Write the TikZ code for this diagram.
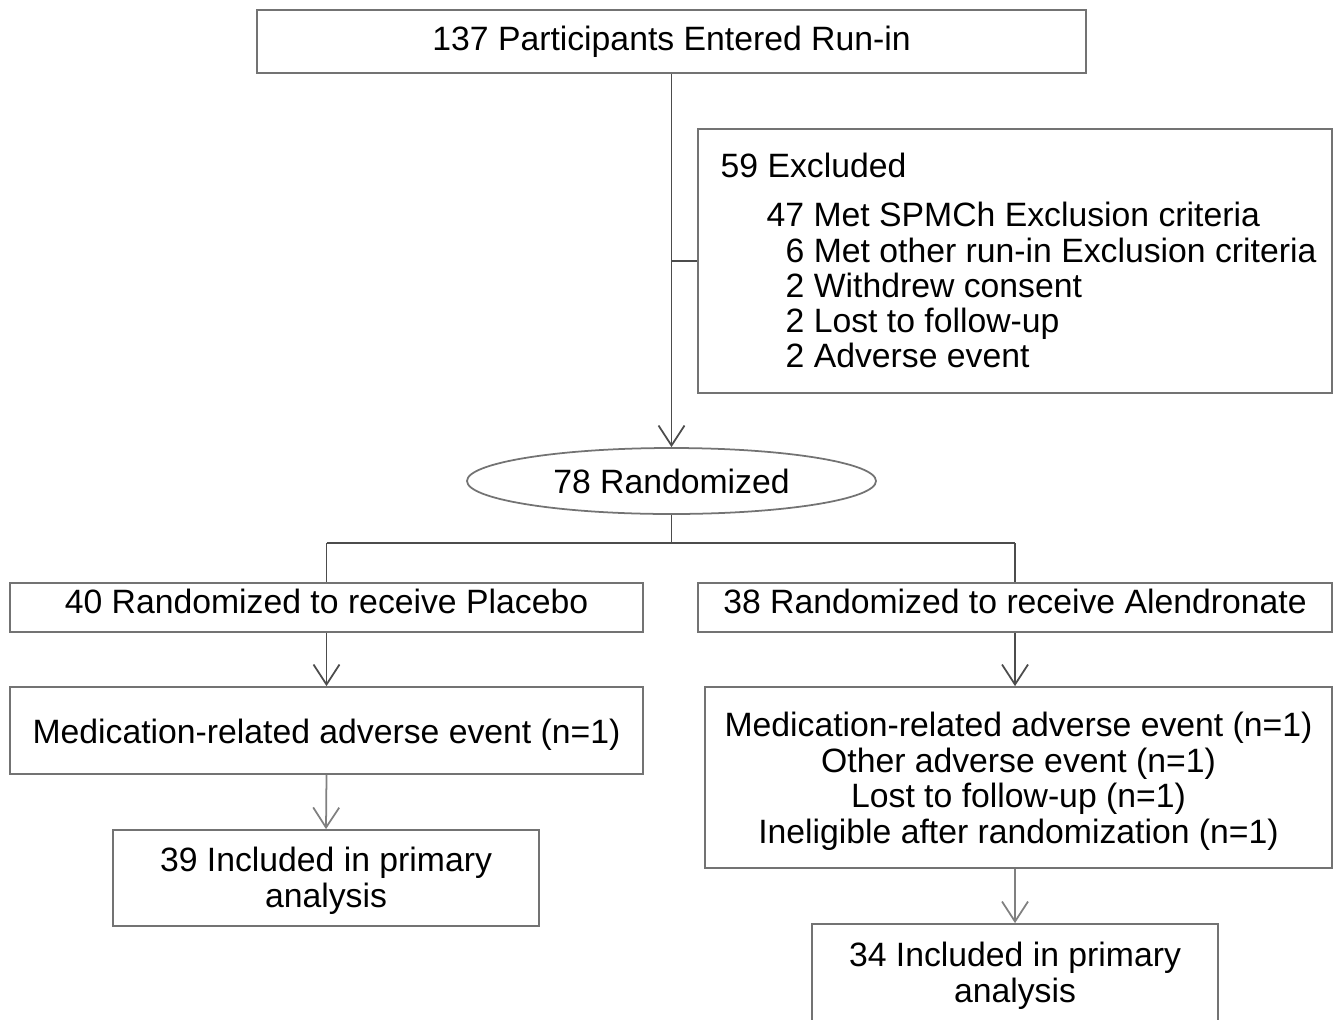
\documentclass[tikz,border=0pt]{standalone}
\usepackage{fontspec}
\setmainfont{Liberation Sans}
\usetikzlibrary{arrows.meta,shapes.geometric}

\begin{document}
\begin{tikzpicture}[
	font=\fontsize{9.6}{10.1}\selectfont,
	box/.style={draw=black!55, line width=0.5pt, rectangle, inner sep=0pt, align=center},
	oval/.style={draw=black!55, line width=0.5pt, ellipse, inner sep=0pt},
	line/.style={draw=black!70, line width=0.5pt},
	arr/.style={line, -{Straight Barb[length=2mm,width=2.6mm]}},
	arrl/.style={arr, draw=black!50},
	txt/.style={anchor=base west, inner sep=0pt}
]
	\clip (0,0) rectangle (13.4,-10.19);
	%\draw[help lines] (0,0) grid (13.4,-10.19);
	% top
	\node[box, minimum width=8.29cm, minimum height=0.63cm] (entered) at (6.715,-0.415) {137 Participants Entered Run-in};
	% excluded box and its lines
	\node[box, minimum width=6.34cm, minimum height=2.64cm] (excl) at (10.15,-2.61) {};
	\node[txt] (exclA) at (7.20,-1.77) {59 Excluded};
	\node[txt] (exclB) at (7.66,-2.26) {47 Met SPMCh Exclusion criteria};
	\node[txt] (exclC) at (7.85,-2.62) {6 Met other run-in Exclusion criteria};
	\node[txt] (exclD) at (7.85,-2.97) {2 Withdrew consent};
	\node[txt] (exclE) at (7.85,-3.32) {2 Lost to follow-up};
	\node[txt] (exclF) at (7.85,-3.67) {2 Adverse event};
	% randomized
	\node[oval, minimum width=4.09cm, minimum height=0.66cm] (rand) at (6.715,-4.81) {78 Randomized};
	\coordinate (split) at (6.715,-5.43);
	% arms
	\node[box, minimum width=6.33cm, minimum height=0.49cm, text height=0.25cm, text depth=0.14cm] (placebo) at (3.265,-6.075) {40 Randomized to receive Placebo};
	\node[box, minimum width=6.34cm, minimum height=0.49cm, text height=0.25cm, text depth=0.14cm] (alend) at (10.15,-6.075) {38 Randomized to receive Alendronate};
	\node[box, minimum width=6.33cm, minimum height=0.87cm, text height=0.32cm, text depth=0.07cm] (eventP) at (3.265,-7.305) {Medication-related adverse event (n=1)};
	\node[box, minimum width=6.27cm, minimum height=1.81cm, text height=1.38cm, text depth=0.07cm] (eventA) at (10.185,-7.775) {Medication-related adverse event (n=1)\\Other adverse event (n=1)\\Lost to follow-up (n=1)\\Ineligible after randomization (n=1)};
	\node[box, minimum width=4.26cm, minimum height=0.96cm, text height=0.65cm, text depth=0.07cm] (inclP) at (3.26,-8.78) {39 Included in primary\\analysis};
	\node[box, minimum width=4.06cm, minimum height=1.30cm, text height=0.33cm, text depth=0.07cm] (inclA) at (10.15,-9.89) {34 Included in primary\\analysis};
	% connectors
	\draw[arr] (entered.south) -- (rand.north);
	\draw[line] (entered.south |- excl.west) -- (excl.west);
	\draw[line] (rand.south) -- (split);
	\draw[line] (placebo.north |- split) -- (alend.north |- split);
	\draw[line] (placebo.north |- split) -- (placebo.north);
	\draw[line] (alend.north |- split) -- (alend.north);
	\draw[arr] (placebo.south) -- (eventP.north);
	\draw[arr] (alend.south) -- (alend.south |- eventA.north);
	\draw[arrl] (eventP.south) -- (inclP.north);
	\draw[arrl] (inclA.north |- eventA.south) -- (inclA.north);
\end{tikzpicture}
\end{document}
